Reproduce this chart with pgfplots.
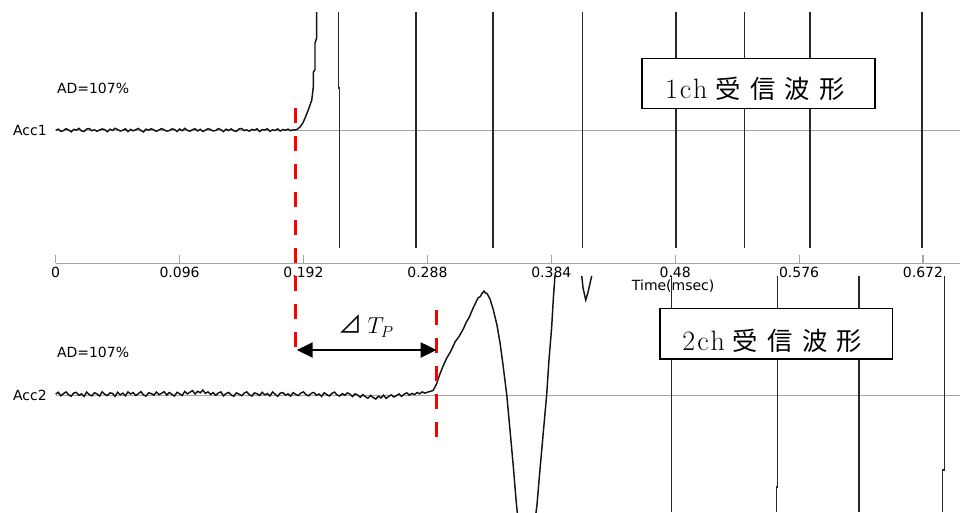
\documentclass[border=0pt]{standalone}
\usepackage{pgfplots}
\pgfplotsset{compat=1.18}
\usetikzlibrary{arrows.meta}
\usepackage{fontspec}
\newfontfamily\dvs{DejaVu Sans}
\newfontfamily\cjk{Noto Sans CJK JP}
\definecolor{basegray}{RGB}{165,165,165}
\definecolor{trace}{RGB}{20,20,20}
\definecolor{vline}{RGB}{40,40,40}
\begin{document}
\begin{tikzpicture}
\begin{axis}[width=720pt,height=384pt,scale only axis,
  xmin=-0.04316,xmax=0.70068,ymin=0,ymax=512,y dir=reverse,
  hide axis,clip=true,unbounded coords=jump]
% baselines and time axis
\addplot[basegray,line width=0.8pt] coordinates {(0,130.8) (0.7007,130.8)};
\addplot[basegray,line width=0.8pt] coordinates {(0,395.7) (0.7007,395.7)};
\addplot[basegray,line width=0.9pt] coordinates {(0,263.3) (0.7007,263.3)};
\pgfplotsinvokeforeach{0,0.096,0.192,0.288,0.384,0.48,0.576,0.672}{
  \draw[basegray,line width=0.8pt] (axis cs:#1,254.5) -- (axis cs:#1,263.3);
  \node[inner sep=0,font=\dvs\fontsize{10.5}{12}\selectfont] at (axis cs:#1,272) {#1};
}
% channel 1 trace
\addplot[trace,line width=1.1pt] coordinates {
(0.000,130.2) (0.002,129.1) (0.004,131.4) (0.006,130.6) (0.008,128.7) (0.010,129.9) (0.012,131.8) (0.014,129.3) (0.016,130.1) (0.018,128.4)
(0.020,130.9) (0.022,131.5) (0.024,129.0) (0.026,128.6) (0.028,130.7) (0.030,129.8) (0.032,131.2) (0.034,130.0) (0.036,128.9) (0.038,129.6)
(0.040,131.7) (0.042,129.2) (0.044,130.4) (0.046,128.3) (0.048,129.5) (0.050,131.0) (0.052,130.3) (0.054,128.8) (0.056,131.6) (0.058,129.4)
(0.060,130.8) (0.062,129.7) (0.064,128.5) (0.066,130.5) (0.068,131.9) (0.070,129.1) (0.072,130.2) (0.074,128.7) (0.076,129.9) (0.078,131.3)
(0.080,130.0) (0.082,128.6) (0.084,129.8) (0.086,131.1) (0.088,130.6) (0.090,128.9) (0.092,129.4) (0.094,131.5) (0.096,129.0) (0.098,130.7)
(0.100,128.4) (0.102,130.3) (0.104,131.2) (0.106,129.6) (0.108,128.8) (0.110,130.9) (0.112,129.3) (0.114,131.4) (0.116,130.1) (0.118,128.7)
(0.120,129.5) (0.122,131.0) (0.124,130.4) (0.126,128.6) (0.128,129.7) (0.130,131.6) (0.132,129.2) (0.134,130.5) (0.136,128.9) (0.138,130.8)
(0.140,131.3) (0.142,129.0) (0.144,128.5) (0.146,130.6) (0.148,129.8) (0.150,131.1) (0.152,129.4) (0.154,130.2) (0.156,128.8) (0.158,131.5)
(0.160,129.6) (0.162,130.0) (0.164,128.7) (0.166,131.2) (0.168,129.9) (0.170,130.4) (0.172,128.9) (0.174,131.0) (0.176,129.5) (0.178,130.3)
(0.180,129.1) (0.182,130.6) (0.184,129.8)
(0.1854,130.0) (0.1870,129.4) (0.1893,127.0) (0.1915,123.0) (0.1932,118.0) (0.1957,110.0) (0.1984,100.0) (0.1996,87.0) (0.1996,72.0)
(0.2009,70.0) (0.2009,43.0) (0.2022,38.0) (0.2022,12.0)};
% channel 1 vertical swings
\addplot[vline,line width=1.1pt] coordinates {(0.2190,12) (0.2190,88) (0.2200,88) (0.2200,248)};
\addplot[vline,line width=1.1pt] coordinates {(0.2792,12) (0.2792,248)};
\addplot[vline,line width=1.1pt] coordinates {(0.3390,12) (0.3390,248)};
\addplot[vline,line width=1.1pt] coordinates {(0.4082,12) (0.4082,248)};
\addplot[vline,line width=1.1pt] coordinates {(0.4806,12) (0.4806,248)};
\addplot[vline,line width=1.1pt] coordinates {(0.5336,12) (0.5336,248)};
\addplot[vline,line width=1.1pt] coordinates {(0.5845,12) (0.5845,248)};
\addplot[vline,line width=1.1pt] coordinates {(0.6712,12) (0.6712,248)};
% channel 2 trace
\addplot[trace,line width=1.1pt] coordinates {
(0.000,394.1) (0.002,392.3) (0.004,395.8) (0.006,393.6) (0.008,391.9) (0.010,394.7) (0.012,396.2) (0.014,393.0) (0.016,392.4) (0.018,395.3)
(0.020,393.8) (0.022,396.4) (0.024,392.1) (0.026,394.5) (0.028,395.9) (0.030,392.7) (0.032,393.9) (0.034,396.0) (0.036,391.8) (0.038,394.2)
(0.040,395.6) (0.042,392.9) (0.044,393.4) (0.046,396.3) (0.048,392.2) (0.050,394.8) (0.052,393.1) (0.054,395.7) (0.056,391.9) (0.058,394.0)
(0.060,392.6) (0.062,395.4) (0.064,393.7) (0.066,391.6) (0.068,394.9) (0.070,396.1) (0.072,392.8) (0.074,393.5) (0.076,395.2) (0.078,392.0)
(0.080,394.6) (0.082,393.3) (0.084,391.7) (0.086,395.0) (0.088,392.5) (0.090,394.3) (0.092,396.0) (0.094,392.3) (0.096,393.8) (0.098,395.5)
(0.100,391.4) (0.102,393.9) (0.104,392.2) (0.106,390.6) (0.108,394.0) (0.110,391.3) (0.112,392.7) (0.114,390.1) (0.116,393.4) (0.118,391.8)
(0.120,394.5) (0.122,392.6) (0.124,395.3) (0.126,393.0) (0.128,391.9) (0.130,395.8) (0.132,393.6) (0.134,392.4) (0.136,394.9) (0.138,396.2)
(0.140,392.8) (0.142,394.1) (0.144,395.7) (0.146,393.2) (0.148,391.8) (0.150,394.6) (0.152,396.0) (0.154,392.9) (0.156,393.7) (0.158,395.4)
(0.160,392.3) (0.162,394.8) (0.164,393.5) (0.166,395.9) (0.168,392.0) (0.170,394.2) (0.172,396.3) (0.174,393.1) (0.176,392.6) (0.178,395.1)
(0.180,393.9) (0.182,396.1) (0.184,392.7) (0.186,394.4) (0.188,395.6) (0.190,393.0) (0.192,391.9) (0.194,394.7) (0.196,395.8) (0.198,393.3)
(0.200,392.4) (0.202,395.2) (0.204,394.0) (0.206,396.4) (0.208,392.8) (0.210,394.5) (0.212,395.9) (0.214,393.4) (0.216,392.1) (0.218,394.9)
(0.220,396.0) (0.222,393.6) (0.224,395.3) (0.226,392.9) (0.228,394.1) (0.230,396.5) (0.232,393.8) (0.234,395.0) (0.236,397.2) (0.238,394.6)
(0.240,396.8) (0.242,398.1) (0.244,395.4) (0.246,397.6) (0.248,399.0) (0.250,396.2) (0.252,397.9) (0.254,395.1) (0.256,398.4) (0.258,396.5)
(0.260,394.8) (0.262,397.0) (0.264,395.6) (0.266,393.9) (0.268,396.3) (0.270,394.2) (0.272,392.8) (0.274,395.1) (0.276,393.4) (0.278,394.6)
(0.280,392.5) (0.282,393.8) (0.284,391.9) (0.286,393.1) (0.288,392.2) (0.290,391.4)
(0.2924,390.5) (0.2937,387.5) (0.2952,383.5) (0.2966,378.0) (0.2977,374.0) (0.3000,366.5) (0.3030,358.0) (0.3060,351.5) (0.3094,342.0) (0.3125,336.5)
(0.3158,329.0) (0.3180,322.5) (0.3205,317.0) (0.3236,307.5) (0.3255,302.5) (0.3272,298.0) (0.3290,296.5) (0.3303,293.5) (0.3319,291.0) (0.3330,293.0)
(0.3342,293.5) (0.3365,299.0) (0.3391,310.0) (0.3419,325.0) (0.3443,343.0) (0.3466,365.0) (0.3495,395.0) (0.3520,430.0) (0.3546,467.0)
(0.3567,500.0) (0.3582,520.0) (0.3714,520.0) (0.3729,505.0) (0.3752,470.0) (0.3804,395.0) (0.3822,360.0) (0.3843,327.0) (0.3855,300.0) (0.3869,275.0)};
\addplot[trace,line width=1.1pt] coordinates {(0.4076,276) (0.4086,288) (0.4107,300) (0.4125,292) (0.4153,276)};
% channel 2 vertical swings
\addplot[vline,line width=1.1pt] coordinates {(0.4771,276) (0.4771,512)};
\addplot[vline,line width=1.1pt] coordinates {(0.5594,276) (0.5594,487) (0.5584,487) (0.5584,512)};
\addplot[vline,line width=1.1pt] coordinates {(0.6224,276) (0.6224,512)};
\addplot[vline,line width=1.1pt] coordinates {(0.6885,276) (0.6885,470) (0.6873,470) (0.6873,512)};
% labels
\node[anchor=east,inner sep=0,font=\dvs\fontsize{10.5}{12}\selectfont] at (axis cs:-0.0067,130.5) {Acc1};
\node[anchor=east,inner sep=0,font=\dvs\fontsize{10.5}{12}\selectfont] at (axis cs:-0.0067,395.7) {Acc2};
\node[anchor=west,inner sep=0,font=\dvs\fontsize{10.5}{12}\selectfont] at (axis cs:0.0008,88) {AD=107\%};
\node[anchor=west,inner sep=0,font=\dvs\fontsize{10.5}{12}\selectfont] at (axis cs:0.0008,352.7) {AD=107\%};
\node[anchor=west,inner sep=0,font=\dvs\fontsize{10.5}{12}\selectfont] at (axis cs:0.4463,285.7) {Time(msec)};
% red markers and arrow
\draw[red,line width=2.5pt,dash pattern=on 11.25pt off 9.75pt] (axis cs:0.1860,108) -- (axis cs:0.1860,347);
\draw[red,line width=2.5pt,dash pattern=on 11.25pt off 9.75pt] (axis cs:0.2950,310) -- (axis cs:0.2950,437);
\draw[{Triangle[length=12pt,width=11pt]}-{Triangle[length=12pt,width=11pt]},line width=2.2pt] (axis cs:0.1867,350) -- (axis cs:0.2952,350);
\node[inner sep=0] at (axis cs:0.2404,326) {\fontsize{18}{20}\selectfont{\cjk ⊿}\hspace{4pt}$T_P$};
% boxes
\draw[fill=white,line width=1.2pt] (axis cs:0.4541,58.3) rectangle (axis cs:0.6348,108.3);
\node[inner sep=0] at (axis cs:0.5418,89) {{\fontsize{21}{22}\selectfont 1\hspace{1.5pt}c\hspace{1.5pt}h}\hspace{6pt}{\fontsize{19}{22}\selectfont\cjk 受\hspace{7pt}信\hspace{7pt}波\hspace{7pt}形}};
\draw[fill=white,line width=1.2pt] (axis cs:0.4682,308.3) rectangle (axis cs:0.6485,359);
\node[inner sep=0] at (axis cs:0.5553,341) {{\fontsize{21}{22}\selectfont 2\hspace{1.5pt}c\hspace{1.5pt}h}\hspace{6pt}{\fontsize{19}{22}\selectfont\cjk 受\hspace{7pt}信\hspace{7pt}波\hspace{7pt}形}};
\end{axis}
\pgfresetboundingbox
\useasboundingbox (current axis.south west) rectangle (current axis.north east);
\end{tikzpicture}
\end{document}
